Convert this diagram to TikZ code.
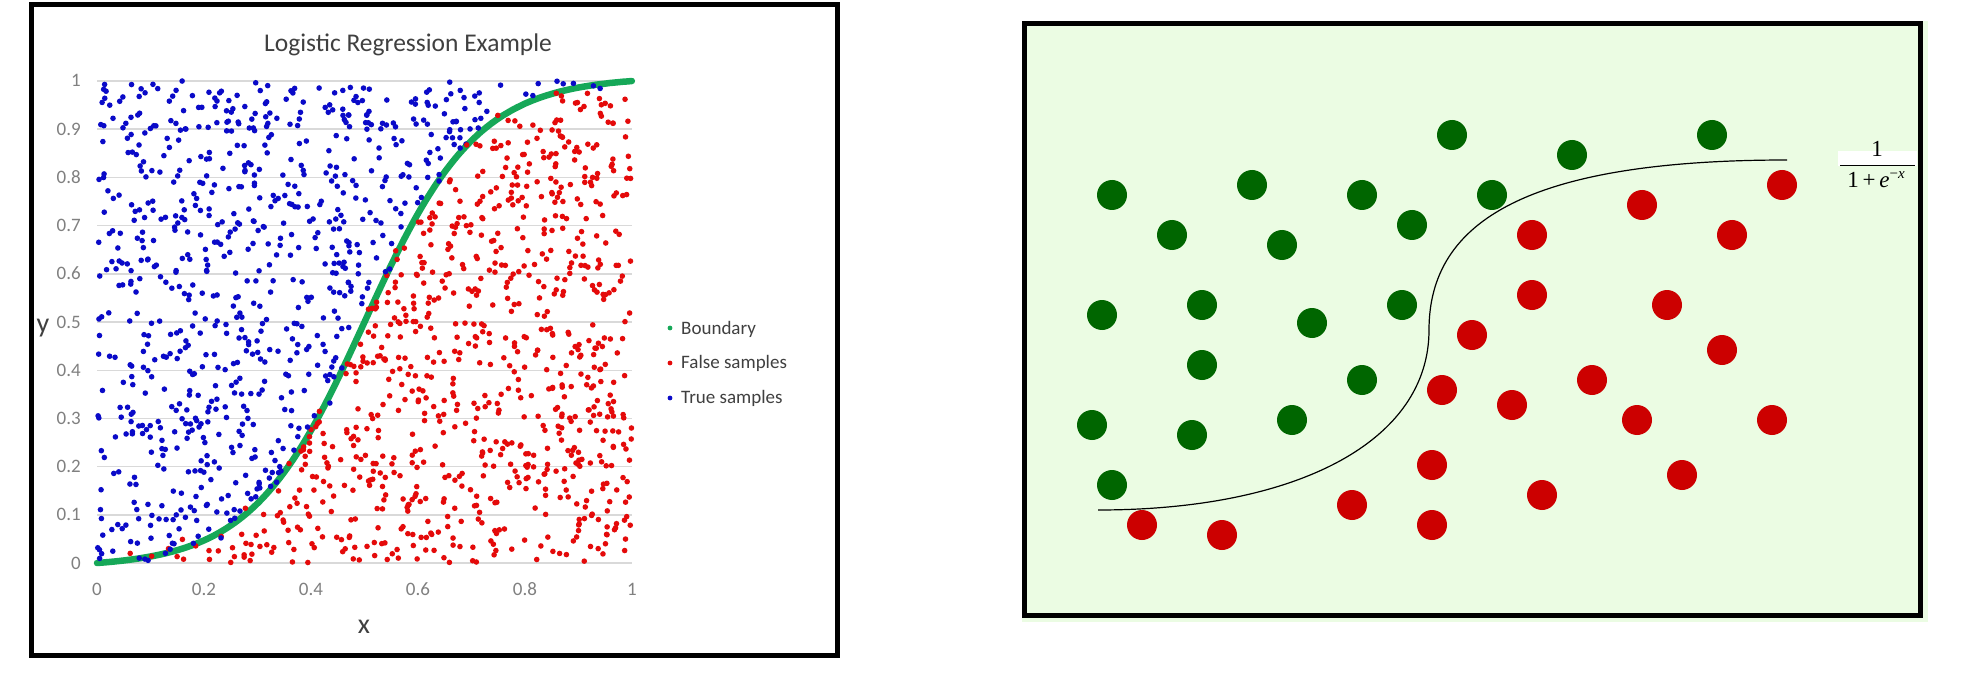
\documentclass[tikz,border=0pt]{standalone}
\usepackage{fontspec}
\setmainfont{Carlito}
\newfontfamily\fracfont{Liberation Serif}
\definecolor{gridc}{RGB}{217,217,217}
\definecolor{tickgray}{RGB}{128,128,128}
\definecolor{darktxt}{RGB}{64,64,64}
\definecolor{tblue}{RGB}{10,10,200}
\definecolor{fred}{RGB}{228,10,10}
\definecolor{bndgreen}{RGB}{22,168,88}
\definecolor{bgreen}{RGB}{235,252,227}
\definecolor{gdot}{RGB}{0,102,0}
\definecolor{rdot}{RGB}{204,0,0}
\tikzset{
  ticklab/.style={font=\fontsize{19pt}{21pt}\selectfont, text=tickgray, inner sep=0pt},
  legtxt/.style={font=\fontsize{19pt}{21pt}\selectfont, text=darktxt, inner sep=0pt, anchor=base west},
  axtitle/.style={font=\fontsize{28pt}{30pt}\selectfont, text=darktxt, inner sep=0pt, anchor=base},
  frametwo/.style={line width=5pt, draw=black},
  fracf/.style={font=\fracfont\fontsize{23pt}{25pt}\selectfont, inner sep=0pt, anchor=base},
}
\begin{document}
\begin{tikzpicture}[x=1pt,y=-1pt]
\useasboundingbox (0,0) rectangle (1981,687);
\fill[white] (0,0) rectangle (1981,687);
% ---------------- left panel ----------------
\draw[frametwo] (31,4.5) rectangle (837,655);
\foreach \k in {0,...,10}
  \draw[gridc, line width=1.4pt] (97,{563-48.2*\k}) -- (632,{563-48.2*\k});
\foreach \k/\t in {0/0,1/0.1,2/0.2,3/0.3,4/0.4,5/0.5,6/0.6,7/0.7,8/0.8,9/0.9,10/1}
  \node[ticklab, anchor=base east] (yt\k) at (81,{563-48.2*\k+6}) {\t};
\foreach \k/\t in {0/0,2/0.2,4/0.4,6/0.6,8/0.8,10/1}
  \node[ticklab, anchor=base] (xt\k) at ({97+53.5*\k},595) {\t};
\node[font=\fontsize{25.5pt}{27pt}\selectfont, text=darktxt, inner sep=0pt, anchor=base] (title) at (408,52) {Logistic Regression Example};
\node[axtitle] (xlab) at (364,633) {x};
\node[axtitle] (ylab) at (43,332) {y};
% boundary curve
\draw[bndgreen, line width=6.5pt, line cap=round]
  plot[domain=0:1, samples=121, smooth] ({97+535*\x},{563-482*((1/(1+exp(-9.5*(\x-0.5)))-0.008577)/0.982846)});
% samples
\pgfmathsetseed{20231}
\foreach \i in {1,...,1600}{%
  \pgfmathsetmacro\px{rnd}%
  \pgfmathsetmacro\py{rnd}%
  \pgfmathsetmacro\fy{(1/(1+exp(-9.5*(\px-0.5)))-0.008577)/0.982846+0.02*rand}%
  \pgfmathtruncatemacro\up{(\py>\fy)}%
  \ifnum\up=1
    \fill[tblue] ({97+535*\px},{563-482*\py}) circle (2.8pt);
  \else
    \fill[fred] ({97+535*\px},{563-482*\py}) circle (2.8pt);
  \fi
}
% legend
\fill[bndgreen] (670,328) circle (2.4pt);
\fill[fred] (670,363) circle (2.4pt);
\fill[tblue] (670,398) circle (2.4pt);
\node[legtxt] (lb) at (681,334) {Boundary};
\node[legtxt] (lf) at (681,368) {False samples};
\node[legtxt] (lt) at (681,403) {True samples};
% ---------------- right panel ----------------
\fill[bgreen] (1022,21) rectangle (1928,622);
\draw[frametwo] (1024.5,23.5) rectangle (1920.5,615.5);
\foreach \p in {(1452,135),(1112,195),(1252,185),(1362,195),(1492,195),(1172,235),(1282,245),(1412,225),(1102,315),(1202,305),(1312,323),(1402,305),(1572,155),(1712,135),(1202,365),(1362,380),(1092,425),(1192,435),(1292,420),(1112,485)}
  \fill[gdot] \p circle (15pt);
\foreach \p in {(1472,335),(1532,235),(1642,205),(1782,185),(1732,235),(1532,295),(1667,305),(1442,390),(1432,465),(1352,505),(1142,525),(1222,535),(1432,525),(1722,350),(1592,380),(1512,405),(1637,420),(1772,420),(1682,475),(1542,495)}
  \fill[rdot] \p circle (15pt);
\coordinate (cs) at (1098,510);
\coordinate (cm) at (1429,330);
\coordinate (ce) at (1787,160);
\draw[black, line width=1.2pt] (cs) .. controls (1300,510) and (1429,440) .. (cm)
  .. controls (1429,220) and (1530,160) .. (ce);
% fraction label
\fill[white] (1838,151) rectangle (1917,166);
\node[fracf] (num) at (1877,157) {1};
\node[fracf] (den) at (1876,188) {1\,+\,\textit{e}\raisebox{0.42em}{\fontsize{15pt}{16pt}\selectfont −\textit{x}}};
\draw[black, line width=1pt] (1840,166) -- (1915,166);
\end{tikzpicture}
\end{document}
